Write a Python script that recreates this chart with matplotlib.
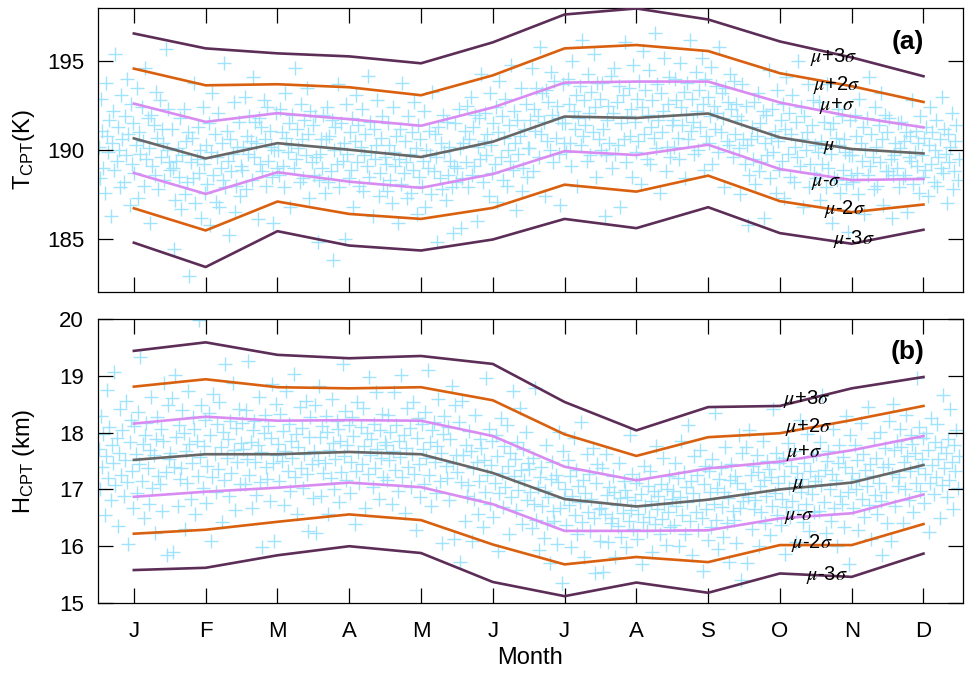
import numpy as np
import matplotlib
matplotlib.use('Agg')
import matplotlib.pyplot as plt

plt.rcParams['font.family'] = ['Liberation Sans', 'DejaVu Sans']
plt.rcParams['mathtext.fontset'] = 'custom'
plt.rcParams['mathtext.rm'] = 'Liberation Sans'
plt.rcParams['mathtext.it'] = 'Liberation Sans:italic'

months = ['J', 'F', 'M', 'A', 'M', 'J', 'J', 'A', 'S', 'O', 'N', 'D']
band_labels = [r'$\mu$+3$\sigma$', r'$\mu$+2$\sigma$', r'$\mu$+$\sigma$', r'$\mu$',
               r'$\mu$-$\sigma$', r'$\mu$-2$\sigma$', r'$\mu$-3$\sigma$']

# monthly statistics of cold point temperature (K)
t_p3 = [196.57, 195.73, 195.45, 195.28, 194.89, 196.07, 197.64, 197.98, 197.36, 196.12, 195.22, 194.16]
t_p2 = [194.59, 193.65, 193.71, 193.54, 193.09, 194.21, 195.73, 195.92, 195.58, 194.33, 193.60, 192.71]
t_p1 = [192.62, 191.59, 192.08, 191.74, 191.37, 192.40, 193.80, 193.86, 193.86, 192.68, 191.89, 191.28]
t_mu = [190.66, 189.53, 190.39, 190.02, 189.61, 190.47, 191.89, 191.81, 192.06, 190.71, 190.06, 189.81]
t_m1 = [188.71, 187.53, 188.75, 188.22, 187.87, 188.65, 189.94, 189.72, 190.30, 188.93, 188.31, 188.37]
t_m2 = [186.72, 185.47, 187.10, 186.40, 186.12, 186.74, 188.05, 187.66, 188.56, 187.12, 186.50, 186.93]
t_m3 = [184.78, 183.41, 185.43, 184.62, 184.34, 184.96, 186.12, 185.60, 186.78, 185.32, 184.72, 185.51]

# monthly statistics of cold point height (km)
h_p3 = [19.44, 19.59, 19.37, 19.31, 19.35, 19.21, 18.54, 18.04, 18.45, 18.47, 18.78, 18.98]
h_p2 = [18.81, 18.94, 18.80, 18.78, 18.80, 18.57, 17.97, 17.59, 17.92, 17.99, 18.22, 18.47]
h_p1 = [18.16, 18.28, 18.21, 18.22, 18.21, 17.94, 17.40, 17.16, 17.37, 17.49, 17.69, 17.94]
h_mu = [17.52, 17.62, 17.62, 17.66, 17.62, 17.29, 16.83, 16.70, 16.82, 17.00, 17.12, 17.43]
h_m1 = [16.87, 16.96, 17.03, 17.12, 17.04, 16.74, 16.27, 16.27, 16.28, 16.49, 16.58, 16.91]
h_m2 = [16.22, 16.29, 16.43, 16.56, 16.46, 16.03, 15.68, 15.81, 15.72, 16.02, 16.02, 16.39]
h_m3 = [15.58, 15.62, 15.84, 16.00, 15.88, 15.37, 15.12, 15.36, 15.18, 15.52, 15.46, 15.87]

# daily cold point temperature samples, one list per month
t_daily = [
    [190.2, 188.4, 192.9, 191.1, 189.0, 187.6, 193.8, 190.8, 189.9, 191.7, 186.3, 190.4, 192.2, 188.9, 195.4,
     189.4, 191.3, 190.0, 187.9, 193.1, 190.6, 188.2, 191.9, 189.7, 194.0, 190.9, 186.9, 192.6, 189.2, 191.5,
     188.7, 190.3, 193.5, 187.3, 191.0, 189.8, 192.4, 190.5, 188.0, 194.6, 189.5, 191.8, 190.1, 185.9, 192.0,
     189.1, 191.4, 188.6, 193.3, 190.7, 187.8, 192.8, 189.6, 191.2, 190.4, 188.3, 195.7, 190.0, 192.3, 189.3],
    [188.9, 191.2, 189.0, 184.4, 187.2, 189.4, 190.1, 188.5, 191.8, 186.7, 189.7, 192.3, 187.5, 190.5, 188.2,
     191.0, 182.9, 189.3, 190.7, 188.4, 193.8, 187.0, 189.5, 191.3, 188.7, 190.0, 186.2, 192.4, 189.2, 187.6,
     190.3, 188.1, 191.5, 185.8, 189.9, 193.2, 188.6, 190.9, 187.1, 189.6, 192.1, 186.8, 189.0, 190.4, 188.3,
     194.9, 187.9, 191.1, 189.4, 185.2, 190.6, 188.8, 189.8, 192.7, 186.5, 188.0, 190.2, 191.6, 187.4, 189.1],
    [188.9, 190.2, 193.0, 187.8, 190.8, 189.8, 191.9, 190.5, 188.3, 194.1, 189.6, 191.6, 190.4, 186.1, 191.8,
     189.2, 191.3, 188.8, 192.8, 190.6, 188.0, 192.4, 189.4, 191.1, 190.2, 188.5, 185.9, 190.0, 192.1, 189.0,
     190.0, 188.6, 192.3, 191.0, 189.1, 187.9, 193.2, 190.7, 189.9, 191.5, 186.8, 190.3, 192.0, 189.0, 194.6,
     189.5, 191.2, 190.1, 188.2, 192.6, 190.6, 188.4, 191.7, 189.7, 193.5, 190.9, 187.3, 192.2, 189.3, 191.4],
    [188.6, 191.9, 189.6, 184.8, 188.3, 189.8, 190.6, 189.0, 192.0, 187.6, 190.6, 192.4, 188.2, 190.8, 188.8,
     191.7, 183.8, 190.0, 191.3, 189.2, 193.7, 187.9, 190.1, 191.5, 189.4, 190.4, 185.0, 192.6, 189.8, 188.4,
     191.0, 188.9, 191.8, 186.8, 190.5, 193.1, 189.3, 191.4, 188.0, 190.2, 192.3, 187.7, 189.7, 190.9, 189.1,
     194.2, 188.5, 191.6, 189.9, 186.3, 191.2, 189.5, 190.3, 192.8, 187.4, 188.7, 190.7, 191.9, 188.1, 189.6],
    [189.2, 187.7, 191.5, 190.3, 188.3, 187.0, 192.4, 189.9, 189.1, 190.8, 185.9, 189.5, 191.2, 188.1, 193.8,
     188.7, 190.5, 189.3, 187.3, 191.9, 189.8, 187.6, 191.0, 188.9, 192.7, 190.1, 186.4, 191.4, 188.5, 190.6,
     188.0, 189.4, 192.2, 186.8, 190.0, 189.0, 191.1, 189.7, 187.5, 193.3, 188.8, 190.9, 189.6, 184.8, 191.3,
     188.4, 190.4, 187.8, 192.0, 189.9, 187.2, 191.6, 188.6, 190.2, 189.4, 187.9, 185.3, 189.1, 191.5, 188.2],
    [189.0, 192.3, 190.1, 185.6, 188.4, 190.4, 191.1, 189.3, 192.5, 187.9, 190.6, 193.0, 188.6, 191.3, 189.1,
     192.0, 186.0, 190.2, 191.8, 189.5, 194.3, 188.2, 190.5, 192.1, 189.7, 190.9, 187.4, 193.2, 190.3, 188.7,
     191.5, 189.2, 192.4, 187.1, 191.0, 193.9, 189.6, 191.9, 188.3, 190.7, 192.9, 188.0, 190.0, 191.4, 189.4,
     194.8, 188.9, 192.2, 190.4, 186.6, 191.7, 189.8, 190.8, 193.5, 187.7, 189.0, 191.2, 192.6, 188.5, 190.1],
    [190.1, 191.7, 194.6, 188.8, 192.3, 191.1, 193.5, 191.9, 189.6, 195.8, 190.9, 193.2, 191.6, 187.4, 193.4,
     190.5, 192.7, 190.0, 194.4, 192.0, 189.3, 193.9, 190.7, 192.5, 191.8, 189.8, 186.9, 191.5, 193.7, 190.4,
     191.5, 189.9, 194.0, 192.6, 190.4, 189.1, 195.0, 192.2, 191.2, 193.1, 188.0, 191.8, 193.6, 190.3, 196.2,
     190.8, 192.8, 191.4, 189.4, 194.3, 192.1, 189.7, 193.3, 191.0, 195.4, 192.4, 188.5, 193.8, 190.6, 192.9],
    [190.0, 193.8, 191.2, 186.3, 189.7, 191.7, 192.5, 190.4, 194.2, 189.0, 192.1, 194.6, 189.8, 192.7, 190.3,
     193.6, 186.8, 191.5, 193.1, 190.6, 196.1, 189.3, 191.9, 193.5, 190.8, 192.3, 188.5, 194.8, 191.6, 189.9,
     192.9, 190.5, 193.9, 188.1, 192.4, 195.6, 190.9, 193.4, 189.5, 192.0, 194.5, 189.2, 191.3, 192.8, 190.7,
     196.6, 190.1, 193.7, 191.7, 187.6, 193.2, 191.0, 192.2, 195.2, 188.8, 190.2, 192.6, 194.1, 189.6, 191.4],
    [191.7, 190.2, 194.0, 192.8, 190.7, 189.5, 194.9, 192.4, 191.4, 193.3, 188.4, 192.0, 193.8, 190.6, 196.2,
     191.1, 192.9, 191.6, 189.8, 194.4, 192.2, 190.0, 193.4, 191.3, 195.2, 192.6, 188.9, 194.0, 190.8, 193.0,
     190.4, 191.9, 194.7, 189.2, 192.5, 191.2, 193.6, 192.1, 189.9, 195.8, 191.0, 193.2, 191.8, 187.9, 193.5,
     190.5, 192.7, 190.3, 194.3, 192.3, 189.6, 193.9, 190.9, 192.6, 191.9, 190.1, 187.5, 191.7, 193.7, 190.6],
    [189.2, 192.5, 190.3, 185.8, 188.6, 190.6, 191.3, 189.5, 192.7, 188.1, 190.8, 193.2, 188.8, 191.5, 189.3,
     192.2, 186.2, 190.4, 192.0, 189.7, 194.5, 188.4, 190.7, 192.3, 189.9, 191.1, 187.6, 193.4, 190.5, 188.9,
     191.7, 189.4, 192.6, 187.3, 191.2, 194.1, 189.8, 192.1, 188.5, 190.9, 193.1, 188.2, 190.2, 191.6, 189.6,
     195.0, 189.1, 192.4, 190.6, 186.8, 191.9, 190.0, 191.0, 193.7, 187.9, 189.2, 191.4, 192.8, 188.7, 190.3],
    [188.4, 189.9, 192.7, 187.2, 190.5, 189.2, 191.6, 190.1, 187.9, 193.7, 189.0, 191.2, 189.8, 185.9, 191.5,
     188.5, 190.7, 188.3, 192.3, 190.3, 187.6, 191.9, 188.9, 190.6, 189.9, 188.1, 185.4, 189.7, 191.7, 188.6,
     189.7, 188.2, 192.0, 190.8, 188.7, 187.5, 192.9, 190.4, 189.4, 191.3, 186.4, 190.0, 191.8, 188.6, 194.1,
     189.1, 190.9, 189.6, 187.8, 192.4, 190.2, 188.0, 191.4, 189.3, 193.2, 190.6, 186.9, 192.0, 188.8, 191.0],
    [188.8, 191.8, 189.5, 186.2, 188.6, 189.7, 190.4, 189.0, 191.5, 187.9, 190.1, 191.6, 188.4, 190.5, 188.6,
     191.0, 186.5, 189.6, 190.8, 189.4, 192.8, 188.1, 189.9, 191.1, 189.1, 190.4, 187.6, 191.9, 189.7, 188.5,
     190.7, 188.9, 191.3, 187.4, 190.3, 192.4, 189.2, 191.0, 188.2, 190.0, 191.7, 188.0, 189.6, 190.6, 189.0,
     193.0, 188.7, 191.2, 189.8, 187.0, 190.9, 189.3, 190.2, 192.1, 187.8, 188.8, 190.5, 191.4, 188.3, 189.5],
]

# daily cold point height samples, one list per month
h_daily = [
    [17.71, 17.00, 18.29, 17.39, 17.97, 16.55, 17.58, 18.75, 17.20, 18.10, 16.81, 17.78, 17.46, 19.07, 17.07,
     17.91, 16.36, 17.65, 18.42, 17.26, 18.04, 16.88, 17.52, 18.55, 17.13, 16.04, 17.84, 18.23, 17.33, 16.68,
     18.12, 17.63, 16.94, 18.36, 17.44, 19.33, 17.15, 17.80, 16.49, 17.95, 18.17, 17.37, 16.75, 17.69, 18.62,
     17.02, 17.60, 16.23, 17.89, 18.27, 17.24, 17.09, 18.06, 16.62, 17.86, 18.87, 17.31, 15.84, 18.49, 17.54],
    [17.64, 18.61, 15.90, 17.40, 19.01, 17.93, 16.70, 18.13, 17.18, 17.38, 18.39, 18.00, 16.30, 17.67, 17.11,
     18.74, 17.80, 16.83, 17.47, 18.28, 18.06, 16.56, 17.86, 17.24, 19.98, 17.57, 18.48, 17.03, 17.77, 18.23,
     16.76, 17.42, 18.35, 17.95, 16.10, 17.22, 18.68, 17.62, 16.96, 18.15, 17.36, 18.54, 17.75, 16.43, 18.02,
     17.16, 19.20, 17.55, 17.88, 16.89, 18.21, 17.29, 18.87, 17.69, 16.63, 18.08, 17.49, 18.41, 17.09, 17.82],
    [18.17, 17.72, 17.09, 18.39, 17.54, 19.27, 17.25, 17.84, 16.68, 18.05, 18.21, 17.48, 16.91, 17.78, 18.62,
     17.13, 17.66, 15.98, 17.99, 18.31, 17.40, 17.19, 18.11, 16.79, 17.90, 18.86, 17.46, 16.09, 18.51, 17.60,
     17.80, 17.15, 18.33, 17.50, 18.03, 16.73, 17.68, 18.74, 17.32, 18.15, 16.97, 17.86, 17.56, 19.04, 17.21,
     17.97, 16.56, 17.74, 18.45, 17.38, 18.09, 17.03, 17.62, 18.56, 17.27, 16.26, 17.92, 18.27, 17.44, 16.85],
    [17.68, 18.49, 16.23, 17.51, 18.82, 17.92, 16.89, 18.12, 17.29, 17.46, 18.30, 18.01, 16.56, 17.70, 17.20,
     18.60, 17.81, 17.00, 17.53, 18.21, 18.07, 16.78, 17.86, 17.31, 19.20, 17.58, 18.38, 17.16, 17.79, 18.14,
     16.94, 17.49, 18.27, 17.94, 16.39, 17.33, 18.54, 17.66, 17.11, 18.10, 17.44, 18.43, 17.77, 16.67, 17.99,
     17.27, 18.98, 17.60, 17.88, 17.05, 18.16, 17.38, 18.71, 17.72, 16.83, 18.05, 17.55, 18.32, 17.22, 17.83],
    [17.79, 17.16, 18.31, 17.52, 18.01, 16.75, 17.67, 18.72, 17.34, 18.13, 16.98, 17.85, 17.57, 19.01, 17.22,
     17.96, 16.58, 17.73, 18.43, 17.39, 18.08, 17.05, 17.63, 18.54, 17.28, 16.29, 17.91, 18.25, 17.45, 16.86,
     18.15, 17.71, 17.10, 18.37, 17.55, 19.10, 17.26, 17.83, 16.70, 18.04, 18.19, 17.49, 16.93, 17.77, 18.60,
     17.14, 17.65, 16.05, 17.98, 18.29, 17.41, 17.20, 18.10, 16.81, 17.89, 18.83, 17.47, 16.12, 18.49, 17.61],
    [17.31, 18.19, 15.73, 17.13, 18.55, 17.61, 16.45, 17.79, 16.89, 17.07, 18.03, 17.67, 16.09, 17.37, 16.83,
     18.31, 17.49, 16.57, 17.15, 17.89, 17.73, 16.33, 17.51, 16.95, 18.97, 17.25, 18.07, 16.75, 17.43, 17.85,
     16.51, 17.11, 17.95, 17.59, 15.91, 16.93, 18.25, 17.29, 16.69, 17.77, 17.05, 18.13, 17.41, 16.21, 17.65,
     16.87, 18.73, 17.23, 17.53, 16.63, 17.83, 16.99, 18.43, 17.35, 16.39, 17.71, 17.17, 18.01, 16.81, 17.47],
    [17.36, 16.96, 16.32, 17.56, 16.75, 18.79, 16.47, 17.04, 15.93, 17.21, 17.40, 16.70, 16.15, 16.98, 17.79,
     16.40, 16.87, 15.70, 17.19, 17.49, 16.62, 16.45, 17.26, 16.04, 17.13, 18.02, 16.68, 15.36, 17.68, 16.85,
     17.00, 16.38, 17.51, 16.72, 17.23, 15.98, 16.89, 17.90, 16.55, 17.34, 16.21, 17.06, 16.77, 18.19, 16.43,
     17.17, 15.81, 16.94, 17.62, 16.60, 17.28, 16.27, 16.83, 17.73, 16.49, 15.53, 17.11, 17.45, 16.66, 16.10],
    [16.68, 17.37, 15.54, 16.56, 17.63, 16.90, 16.08, 17.04, 16.41, 16.50, 17.24, 16.95, 15.81, 16.72, 16.36,
     17.46, 16.85, 16.17, 16.59, 17.15, 16.99, 15.99, 16.86, 16.45, 17.95, 16.64, 17.28, 16.30, 16.81, 17.12,
     16.12, 16.57, 17.19, 16.92, 15.68, 16.43, 17.41, 16.70, 16.26, 17.06, 16.52, 17.32, 16.79, 15.90, 16.97,
     16.39, 17.77, 16.66, 16.88, 16.21, 17.10, 16.48, 17.55, 16.74, 16.03, 17.01, 16.61, 17.23, 16.34, 16.83],
    [16.98, 16.38, 17.47, 16.71, 17.20, 16.00, 16.87, 17.86, 16.55, 17.31, 16.22, 17.04, 16.77, 18.13, 16.44,
     17.15, 15.84, 16.93, 17.58, 16.60, 17.26, 16.28, 16.82, 17.69, 16.49, 15.57, 17.09, 17.42, 16.66, 16.11,
     17.33, 16.95, 16.33, 17.53, 16.75, 18.35, 16.47, 17.02, 15.95, 17.18, 17.37, 16.69, 16.17, 16.96, 17.75,
     16.40, 16.85, 15.73, 17.17, 17.45, 16.62, 16.46, 17.24, 16.06, 17.11, 17.96, 16.68, 15.40, 17.64, 16.80],
    [17.01, 17.75, 15.70, 16.86, 18.05, 17.26, 16.30, 17.41, 16.66, 16.81, 17.61, 17.31, 16.00, 17.06, 16.61,
     17.86, 17.16, 16.40, 16.89, 17.50, 17.36, 16.20, 17.21, 16.71, 18.41, 16.94, 17.65, 16.55, 17.11, 17.46,
     16.37, 16.84, 17.56, 17.24, 15.87, 16.69, 17.81, 17.02, 16.52, 17.42, 16.79, 17.68, 17.12, 16.08, 17.29,
     16.64, 18.22, 16.96, 17.19, 16.43, 17.47, 16.74, 17.97, 17.04, 16.26, 17.33, 16.92, 17.58, 16.61, 17.14],
    [17.63, 17.24, 16.62, 17.84, 17.07, 18.67, 16.78, 17.35, 16.23, 17.50, 17.67, 17.00, 16.45, 17.28, 18.06,
     16.67, 17.17, 16.01, 17.46, 17.78, 16.89, 16.74, 17.57, 16.34, 17.39, 18.29, 16.96, 15.68, 17.95, 17.13,
     17.29, 16.68, 17.79, 17.01, 17.51, 16.29, 17.18, 18.17, 16.84, 17.62, 16.51, 17.34, 17.06, 18.45, 16.73,
     17.45, 16.12, 17.23, 17.90, 16.90, 17.56, 16.57, 17.12, 18.01, 16.79, 15.84, 17.40, 17.73, 16.95, 16.40],
    [17.44, 18.20, 16.09, 17.27, 18.51, 17.70, 16.71, 17.85, 17.06, 17.21, 18.06, 17.75, 16.40, 17.49, 17.01,
     18.31, 17.59, 16.81, 17.32, 17.95, 17.80, 16.61, 17.65, 17.11, 18.96, 17.37, 18.10, 16.97, 17.54, 17.90,
     16.76, 17.28, 18.00, 17.69, 16.25, 17.12, 18.25, 17.43, 16.92, 17.84, 17.22, 18.15, 17.53, 16.50, 17.74,
     17.07, 18.67, 17.38, 17.64, 16.86, 17.89, 17.17, 18.41, 17.48, 16.66, 17.79, 17.33, 18.05, 17.02, 17.58],
]

band_colors = ['#5c2d56', '#d9600f', '#d88cf2', '#676767', '#d88cf2', '#d9600f', '#5c2d56']
cloud_color = '#9fe3fd'


def draw_panel(ax, daily, bands, label_xy):
    # daily samples spread across each month
    for m, vals in enumerate(daily, start=1):
        n = len(vals)
        x = m - 0.5 + (np.arange(n) + 0.5) / n
        ax.plot(x, vals, '+', color=cloud_color, ms=10, mew=1.0, zorder=1)

    months_x = np.arange(1, 13)
    for vals, c in zip(bands, band_colors):
        ax.plot(months_x, vals, color=c, lw=1.9, zorder=3)

    for (lx, ly), lab in zip(label_xy, band_labels):
        ax.text(lx, ly, lab, fontsize=14.5, ha='center', va='center',
                math_fontfamily='stix', zorder=4)

    ax.set_xlim(0.5, 12.55)
    ax.set_xticks(months_x)
    ax.set_xticklabels(months)
    ax.tick_params(direction='in', top=True, right=True, length=11, width=0.9,
                   labelsize=16)
    ax.tick_params(axis='x', pad=13)
    ax.tick_params(axis='y', pad=10)
    for s in ax.spines.values():
        s.set_linewidth(0.9)


fig = plt.figure(figsize=(9.68, 6.76), dpi=100)
ax1 = fig.add_axes([0.1012, 0.568, 0.8936, 0.420])
ax2 = fig.add_axes([0.1012, 0.108, 0.8936, 0.420])

t_labels = [(10.75, 195.22), (10.79, 193.65), (10.79, 192.47), (10.69, 190.22),
            (10.65, 188.20), (10.90, 186.69), (11.03, 185.0)]
h_labels = [(10.37, 18.59), (10.40, 18.10), (10.34, 17.64), (10.26, 17.09),
            (10.27, 16.53), (10.44, 16.05), (10.65, 15.49)]

draw_panel(ax1, t_daily, [t_p3, t_p2, t_p1, t_mu, t_m1, t_m2, t_m3], t_labels)
draw_panel(ax2, h_daily, [h_p3, h_p2, h_p1, h_mu, h_m1, h_m2, h_m3], h_labels)

ax1.set_ylim(182, 198)
ax1.set_yticks([185, 190, 195])
ax1.tick_params(axis='x', labelbottom=False)
ax1.set_ylabel(r'T$_{\mathrm{CPT}}$(K)', fontsize=17)
ax1.yaxis.set_label_coords(-0.071, 0.5)
ax1.text(0.936, 0.88, '(a)', transform=ax1.transAxes, fontsize=19,
         fontweight='bold', ha='center', va='center')

ax2.set_ylim(15, 20)
ax2.set_yticks([15, 16, 17, 18, 19, 20])
ax2.set_ylabel(r'H$_{\mathrm{CPT}}$ (km)', fontsize=17)
ax2.yaxis.set_label_coords(-0.071, 0.5)
ax2.set_xlabel('Month', fontsize=17)
ax2.xaxis.set_label_coords(0.5, -0.155)
ax2.text(0.936, 0.884, '(b)', transform=ax2.transAxes, fontsize=19,
         fontweight='bold', ha='center', va='center')

fig.savefig('out.png', dpi=100)
